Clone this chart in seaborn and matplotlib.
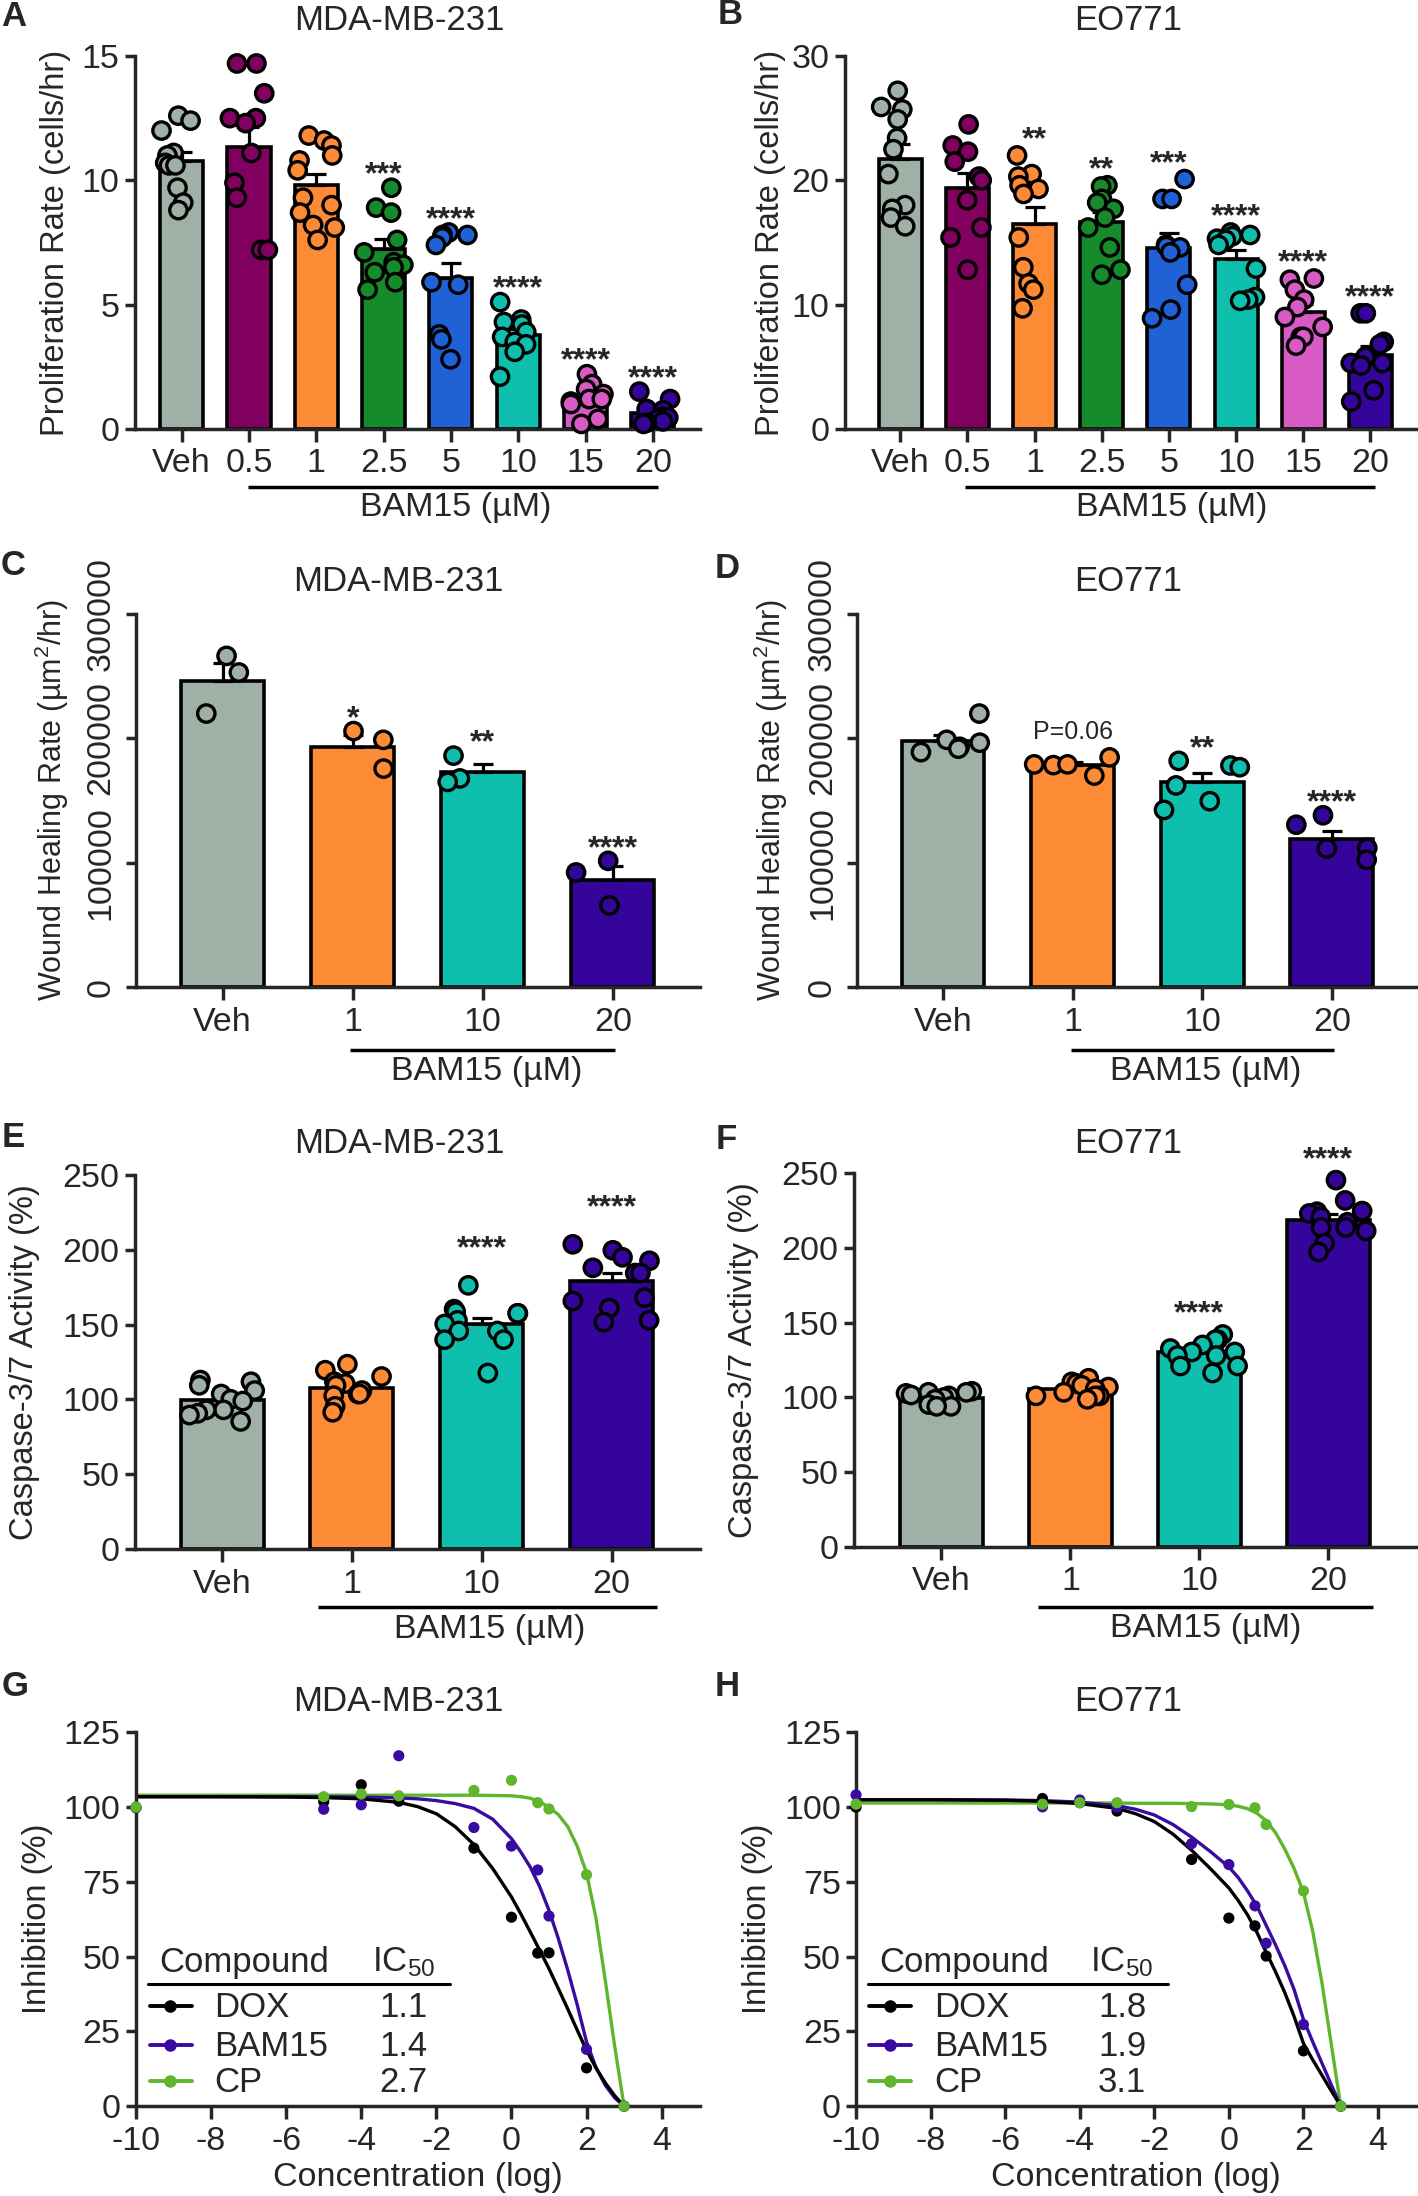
import numpy as np
import pandas as pd
import matplotlib
matplotlib.use("Agg")
import matplotlib.pyplot as plt
import seaborn as sns

# ---------------- values ----------------
prolif_groups = ["Veh", "0.5", "1", "2.5", "5", "10", "15", "20"]
prolif_colors = ["#9fb0a7", "#810060", "#fd8a35", "#168b2c", "#2061d6", "#0fbfad", "#d85ac4", "#35049b"]

# A: MDA-MB-231 proliferation rate (cells/hr)
prolif_mda = [
    [12.6, 12.4, 12.0, 11.1, 11.0, 10.7, 10.6, 10.6, 9.7, 9.1, 8.8],
    [14.7, 14.7, 13.5, 12.5, 12.5, 12.3, 11.1, 9.9, 9.3, 7.2, 7.2],
    [11.8, 11.6, 11.4, 11.0, 10.8, 10.4, 9.3, 9.0, 8.7, 8.2, 8.1, 7.6],
    [9.7, 8.9, 8.7, 7.6, 7.1, 6.7, 6.6, 6.5, 6.3, 5.9, 5.6],
    [7.9, 7.8, 7.8, 7.7, 7.4, 5.9, 5.8, 3.8, 3.6, 2.8],
    [5.1, 4.4, 4.3, 4.2, 3.9, 3.7, 3.5, 3.4, 3.1, 2.1],
    [2.2, 1.8, 1.6, 1.4, 1.2, 1.2, 1.1, 1.0, 0.4, 0.2],
    [1.5, 1.2, 0.8, 0.75, 0.5, 0.45, 0.4, 0.3, 0.25, 0.2],
]
prolif_mda_sig = ["", "", "", "***", "****", "****", "****", "****"]

# B: EO771 proliferation rate (cells/hr)
prolif_eo = [
    [27.2, 25.9, 25.7, 24.9, 23.4, 22.5, 20.5, 18.0, 17.7, 17.0, 16.3],
    [24.5, 22.8, 22.3, 21.5, 20.3, 20.0, 18.4, 16.2, 15.4, 12.8],
    [22.0, 20.5, 20.3, 19.6, 19.3, 18.9, 15.4, 13.0, 11.7, 11.2, 9.7],
    [19.6, 19.5, 18.5, 18.2, 17.7, 17.0, 16.2, 14.6, 12.8, 12.4],
    [20.1, 18.5, 18.5, 14.8, 14.7, 14.6, 14.2, 11.6, 9.6, 8.9],
    [15.8, 15.6, 15.5, 15.3, 15.2, 14.8, 12.9, 10.6, 10.4, 10.3],
    [12.1, 12.0, 11.2, 10.4, 9.8, 9.0, 8.2, 7.4, 7.4, 6.7],
    [9.3, 9.3, 7.0, 6.8, 5.8, 5.3, 5.3, 5.1, 3.1, 2.2],
]
prolif_eo_sig = ["", "", "**", "**", "***", "****", "****", "****"]

dose_groups = ["Veh", "1", "10", "20"]
dose_colors = ["#9fb0a7", "#fd8a35", "#0fbfad", "#35049b"]

# C / D: wound healing rate (um2/hr)
wound_mda = [
    [266000, 252700, 219700],
    [205600, 198600, 175500],
    [185900, 167600, 164800],
    [101400, 92100, 65600],
]
wound_mda_sig = ["", "*", "**", "****"]
wound_eo = [
    [219700, 198600, 196300, 193000, 191500, 188700],
    [184500, 178900, 178300, 178900, 169900],
    [181700, 178000, 176600, 162000, 149300, 142300],
    [138000, 130400, 111800, 111300, 102300],
]
wound_eo_sig = ["", "P=0.06", "**", "****"]

# E / F: caspase-3/7 activity (%)
casp_mda = [
    [112.9, 111.8, 109.4, 105.9, 103.6, 100.0, 98.9, 93.0, 93.0, 90.7, 89.5, 85.3],
    [123.5, 119.5, 115.3, 111.8, 110.6, 109.4, 105.9, 103.6, 103.6, 102.5, 95.4, 91.4],
    [176.2, 160.3, 158.6, 157.5, 157.5, 152.8, 150.4, 145.7, 145.7, 139.9, 139.9, 117.6],
    [203.6, 199.6, 194.9, 192.6, 187.9, 184.4, 184.4, 168.0, 165.7, 161.0, 152.8, 151.6],
]
casp_mda_sig = ["", "", "****", "****"]
casp_eo = [
    [104.0, 103.3, 103.3, 102.6, 101.5, 100.9, 99.8, 98.6, 95.1, 93.9, 93.9],
    [112.7, 110.3, 109.2, 108.0, 106.8, 105.6, 103.3, 100.9, 100.9, 100.9, 98.6],
    [142.0, 138.5, 138.5, 135.0, 132.6, 130.3, 130.3, 127.9, 127.9, 120.9, 120.9, 116.2],
    [245.3, 231.7, 224.6, 224.2, 223.0, 220.7, 217.1, 213.6, 213.6, 211.3, 203.1, 197.2],
]
casp_eo_sig = ["", "", "****", "****"]

# G / H: inhibition (%) vs log concentration
compounds = ["DOX", "BAM15", "CP"]
compound_colors = ["#000000", "#3a0ba0", "#5fb52c"]
conc_log = [-10, -5, -4, -3, -1, 0, 0.7, 1, 2, 3]
inhib_mda_dox = [99.8, 101.8, 107.5, 102.0, 86.3, 63.2, 51.2, 51.3, 12.8, 0.0]
inhib_mda_bam = [100.0, 99.3, 100.8, 117.2, 93.2, 87.0, 79.0, 63.6, 19.0, 0.0]
inhib_mda_cp = [100.0, 103.5, 104.4, 103.8, 105.6, 109.0, 101.5, 99.4, 77.4, 0.0]
inhib_eo_dox = [100.0, 102.9, 101.5, 98.7, 82.5, 62.9, 60.3, 50.2, 18.5, 0.0]
inhib_eo_bam = [104.1, 100.1, 102.4, 100.0, 87.8, 80.8, 67.0, 54.5, 27.3, 0.0]
inhib_eo_cp = [101.0, 101.0, 101.5, 101.5, 100.2, 100.9, 99.8, 94.2, 72.0, 0.0]

# fitted curves
fit_x = [-10, -8, -6, -5, -4, -3, -2.5, -2, -1.5, -1, -0.5, 0, 0.25, 0.5, 0.75, 1,
         1.25, 1.5, 1.75, 2, 2.25, 2.5, 2.75, 3]
fit_mda_dox = [103.5, 103.5, 103.4, 103.2, 102.8, 101.6, 100.2, 97.8, 93.5, 87.5, 79.5, 70.0,
               64.3, 58.3, 52.2, 46.0, 39.3, 32.5, 25.5, 18.7, 12.8, 7.8, 3.5, 0.0]
fit_mda_bam = [103.5, 103.5, 103.5, 103.5, 103.4, 103.1, 102.8, 102.2, 101.2, 99.6, 96.0, 89.5,
               85.0, 80.0, 73.5, 65.5, 56.0, 45.5, 34.0, 21.5, 13.0, 7.0, 2.8, 0.0]
fit_mda_cp = [104.0, 104.0, 104.0, 104.0, 104.0, 104.0, 104.0, 104.0, 104.0, 104.0, 103.9, 103.8,
              103.5, 103.0, 101.8, 100.0, 97.5, 93.5, 87.0, 78.0, 63.0, 42.0, 20.0, 0.0]
fit_eo_dox = [102.5, 102.5, 102.3, 102.0, 101.2, 99.6, 97.8, 95.2, 91.0, 85.6, 79.5, 73.0,
              68.8, 64.0, 58.2, 51.5, 45.0, 38.0, 30.0, 21.0, 15.5, 10.3, 5.1, 0.0]
fit_eo_bam = [102.5, 102.5, 102.4, 102.2, 101.7, 100.5, 99.3, 97.4, 94.2, 90.0, 85.2, 80.0,
              76.5, 72.0, 67.0, 60.5, 54.0, 47.0, 39.0, 29.0, 21.5, 14.3, 7.1, 0.0]
fit_eo_cp = [101.4, 101.4, 101.4, 101.4, 101.4, 101.4, 101.3, 101.3, 101.3, 101.2, 101.1, 100.8,
             100.3, 99.5, 98.0, 95.5, 91.5, 86.0, 79.5, 71.5, 58.5, 41.0, 20.5, 0.0]
ic50_mda = ["1.1", "1.4", "2.7"]
ic50_eo = ["1.8", "1.9", "3.1"]

# ---------------- style ----------------
sns.set_style("ticks")
plt.rcParams["font.family"] = ["Liberation Sans", "DejaVu Sans"]
plt.rcParams["mathtext.fontset"] = "custom"
plt.rcParams["mathtext.rm"] = "Liberation Sans"
plt.rcParams["mathtext.it"] = "Liberation Sans:italic"
plt.rcParams["mathtext.bf"] = "Liberation Sans:bold"
plt.rcParams["axes.unicode_minus"] = False
plt.rcParams["axes.linewidth"] = 2.5

FS = 23.5
TITLE_FS = 25
TICK_FS = 24.5
LEG_FS = 25


def style_axes(ax):
    sns.despine(ax=ax)
    for s in ["left", "bottom"]:
        ax.spines[s].set_linewidth(2.5)
    ax.tick_params(axis="x", length=9, width=2.5, pad=5, labelsize=TICK_FS)
    ax.tick_params(axis="y", length=7, width=2.5, pad=4, labelsize=TICK_FS)


def bar_panel(ax, groups, colors, values, sig, star_off, ylim, yticks, xlim,
              ylabel, ylab_x, bracket, seed, ylab_fs=FS):
    df = pd.DataFrame({
        "group": np.repeat(groups, [len(v) for v in values]),
        "value": np.concatenate(values),
    })
    sns.barplot(data=df, x="group", y="value", hue="group", order=groups, hue_order=groups,
                palette=colors, saturation=1, errorbar=None, width=0.64, edgecolor="black",
                linewidth=2.6, legend=False, ax=ax, zorder=1)
    stats = df.groupby("group", sort=False)["value"].agg(["mean", "sem"]).reindex(groups)
    ax.errorbar(np.arange(len(groups)), stats["mean"],
                yerr=[np.zeros(len(groups)), stats["sem"]],
                fmt="none", ecolor="black", elinewidth=2.3, capsize=7, capthick=2.3, zorder=2)
    np.random.seed(seed)
    sns.stripplot(data=df, x="group", y="value", hue="group", order=groups, hue_order=groups,
                  palette=colors, jitter=0.3, size=12.5, linewidth=2.4, edgecolor="black",
                  legend=False, ax=ax, zorder=3, clip_on=False)

    for i, (lab, vals) in enumerate(zip(sig, values)):
        if not lab:
            continue
        if lab.startswith("P"):
            ax.annotate(lab, (i, max(vals)), xytext=(0, 20 - 0.36 * 18), textcoords="offset points",
                        ha="center", va="baseline", fontsize=18, annotation_clip=False)
        else:
            ax.annotate(lab, (i, max(vals)), xytext=(0, star_off - 0.57 * 23),
                        textcoords="offset points", ha="center", va="baseline",
                        fontsize=23, fontweight="bold", annotation_clip=False)

    ax.set_xlim(*xlim)
    ax.set_ylim(*ylim)
    ax.set_yticks(yticks)
    ax.set_xlabel("")
    ax.set_ylabel(ylabel, fontsize=ylab_fs, va="center")
    ax.yaxis.set_label_coords(ylab_x, 0.5)
    style_axes(ax)

    x0, x1, yl, xc, yt = bracket
    trans = ax.get_xaxis_transform()
    ax.plot([x0, x1], [yl, yl], transform=trans, color="black", lw=2.5,
            clip_on=False, solid_capstyle="butt")
    ax.text(xc, yt, "BAM15 (µM)", transform=trans, ha="center", va="center", fontsize=24.5)


def dose_panel(ax, pts, fits, ic50, ylab_x):
    pal = dict(zip(compounds, compound_colors))
    draw_order = ["CP", "BAM15", "DOX"]
    fit_df = pd.DataFrame({
        "conc": fit_x * 3,
        "inhib": np.concatenate(fits),
        "compound": np.repeat(compounds, len(fit_x)),
    })
    pt_df = pd.DataFrame({
        "conc": conc_log * 3,
        "inhib": np.concatenate(pts),
        "compound": np.repeat(compounds, len(conc_log)),
    })
    sns.lineplot(data=fit_df, x="conc", y="inhib", hue="compound", hue_order=draw_order,
                 palette=pal, errorbar=None, lw=2.4, legend=False, ax=ax, zorder=2)
    sns.scatterplot(data=pt_df, x="conc", y="inhib", hue="compound", hue_order=draw_order,
                    palette=pal, s=65, linewidth=0, legend=False, ax=ax, zorder=3, clip_on=False)
    ax.set_xlim(-10, 5.02)
    ax.set_ylim(0, 125)
    ax.set_xticks(np.arange(-10, 5, 2))
    ax.set_yticks(np.arange(0, 126, 25))
    ax.set_xlabel("Concentration (log)", fontsize=24.5, va="center")
    ax.xaxis.set_label_coords(0.5, -0.192)
    ax.set_ylabel("Inhibition (%)", fontsize=FS, va="center")
    ax.yaxis.set_label_coords(ylab_x, 0.5)
    style_axes(ax)

    # table-style legend
    tr = ax.transAxes
    ax.text(0.041, 0.358, "Compound", transform=tr, ha="left", va="baseline", fontsize=LEG_FS)
    ax.text(0.418, 0.361, "IC$_{50}$", transform=tr, ha="left", va="baseline", fontsize=LEG_FS)
    ax.plot([0.022, 0.557], [0.327, 0.327], transform=tr, color="black", lw=2.2)
    for k, (name, col, val) in enumerate(zip(compounds, compound_colors, ic50)):
        yb = [0.238, 0.135, 0.038][k]
        ax.plot([0.024, 0.099], [yb + 0.03] * 2, transform=tr, color=col, lw=2.8)
        ax.plot([0.061], [yb + 0.03], transform=tr, color=col, marker="o", ms=8)
        ax.text(0.139, yb, name, transform=tr, ha="left", va="baseline", fontsize=LEG_FS)
        ax.text(0.432, yb, val, transform=tr, ha="left", va="baseline", fontsize=LEG_FS)


fig = plt.figure(figsize=(14.18, 21.96), dpi=100)

axA = fig.add_axes([0.0949, 0.8047, 0.3987, 0.1698])
axB = fig.add_axes([0.5956, 0.8047, 0.4030, 0.1698])
axC = fig.add_axes([0.0959, 0.5505, 0.3977, 0.1701])
axD = fig.add_axes([0.6047, 0.5505, 0.3939, 0.1701])
axE = fig.add_axes([0.0949, 0.2946, 0.3987, 0.1704])
axF = fig.add_axes([0.6021, 0.2957, 0.3965, 0.1701])
axG = fig.add_axes([0.0959, 0.0409, 0.3977, 0.1702])
axH = fig.add_axes([0.6037, 0.0409, 0.3949, 0.1702])

bar_panel(axA, prolif_groups, prolif_colors, prolif_mda, prolif_mda_sig, 16.5,
          (0, 15), [0, 5, 10, 15], (-0.7, 7.7), "Proliferation Rate (cells/hr)", -0.139,
          (0.99, 7.07, -0.156, 4.07, -0.21), 1)
bar_panel(axB, prolif_groups, prolif_colors, prolif_eo, prolif_eo_sig, 18,
          (0, 30), [0, 10, 20, 30], (-0.83, 7.68), "Proliferation Rate (cells/hr)", -0.129,
          (0.97, 7.07, -0.156, 4.04, -0.21), 2)

wound_label = "Wound Healing Rate (µm$^{2}$/hr)"
for ax, vals, sig, xl, ylx, br, sd in [
    (axC, wound_mda, wound_mda_sig, (-0.666, 3.67), -0.150, (0.98, 3.02, -0.169, 2.03, -0.225), 3),
    (axD, wound_eo, wound_eo_sig, (-0.66, 3.65), -0.155, (0.99, 3.02, -0.169, 2.03, -0.225), 4),
]:
    bar_panel(ax, dose_groups, dose_colors, vals, sig, 16, (0, 300000),
              [0, 100000, 200000, 300000], xl, wound_label, ylx, br, sd, ylab_fs=22)
    ax.set_yticklabels(["0", "100000", "200000", "300000"], rotation=90, va="center")
    ax.tick_params(axis="y", pad=7)

bar_panel(axE, dose_groups, dose_colors, casp_mda, casp_mda_sig, 33,
          (0, 250), [0, 50, 100, 150, 200, 250], (-0.674, 3.68), "Caspase-3/7 Activity (%)", -0.194,
          (0.74, 3.35, -0.156, 2.06, -0.214), 5)
bar_panel(axF, dose_groups, dose_colors, casp_eo, casp_eo_sig, 22,
          (0, 250), [0, 50, 100, 150, 200, 250], (-0.68, 3.68), "Caspase-3/7 Activity (%)", -0.196,
          (0.745, 3.35, -0.162, 2.05, -0.22), 6)

dose_panel(axG, [inhib_mda_dox, inhib_mda_bam, inhib_mda_cp],
           [fit_mda_dox, fit_mda_bam, fit_mda_cp], ic50_mda, -0.174)
dose_panel(axH, [inhib_eo_dox, inhib_eo_bam, inhib_eo_cp],
           [fit_eo_dox, fit_eo_bam, fit_eo_cp], ic50_eo, -0.176)

# titles
for ax, title, tx, ty in [
    (axA, "MDA-MB-231", 0.468, 1.096), (axB, "EO771", 0.496, 1.096),
    (axC, "MDA-MB-231", 0.466, 1.085), (axD, "EO771", 0.484, 1.085),
    (axE, "MDA-MB-231", 0.468, 1.084), (axF, "EO771", 0.488, 1.080),
    (axG, "MDA-MB-231", 0.466, 1.084), (axH, "EO771", 0.486, 1.084),
]:
    ax.text(tx, ty, title, transform=ax.transAxes, ha="center", va="center", fontsize=TITLE_FS)

# panel letters
for letter, lx, ly in [
    ("A", 0.0095, 0.9923), ("B", 0.5148, 0.9932), ("C", 0.0095, 0.7423), ("D", 0.5130, 0.7413),
    ("E", 0.0095, 0.4818), ("F", 0.5124, 0.4809), ("G", 0.0110, 0.2318), ("H", 0.5130, 0.2322),
]:
    fig.text(lx, ly, letter, ha="center", va="center", fontsize=25, fontweight="bold")

fig.savefig("out.png", dpi=100)
